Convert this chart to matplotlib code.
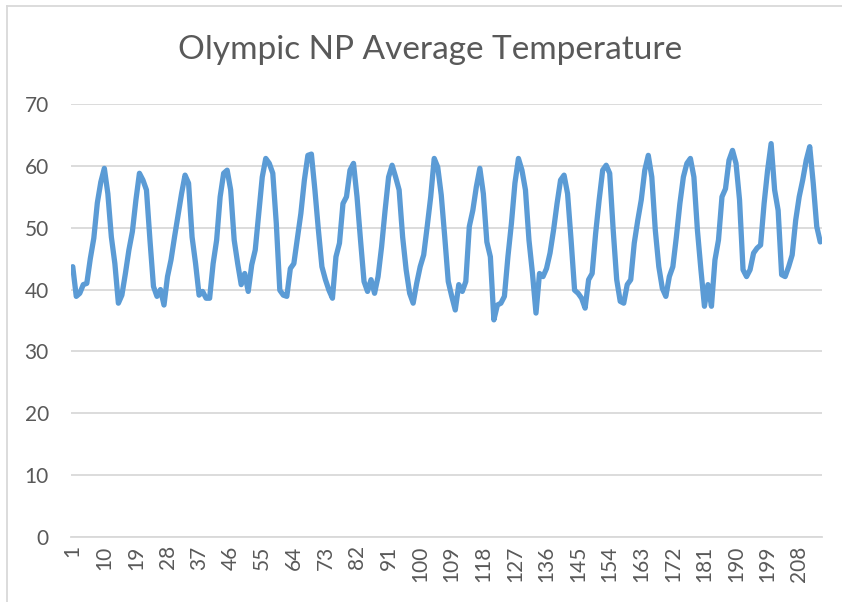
import matplotlib
matplotlib.use("Agg")
import matplotlib.pyplot as plt
from matplotlib.lines import Line2D

# monthly average temperature (214 months)
temps = [
    43.7, 38.9, 39.4, 40.8, 41.0, 45.0, 48.3, 54.0, 57.4, 59.6,
    55.5, 48.5, 44.2, 37.8, 39.1, 42.6, 46.4, 49.4, 54.5, 58.8,
    57.7, 56.1, 48.0, 40.5, 38.9, 40.0, 37.5, 42.1, 44.8, 48.5,
    52.0, 55.5, 58.5, 57.2, 48.5, 44.2, 39.1, 39.7, 38.6, 38.6,
    44.2, 48.0, 55.0, 58.8, 59.3, 56.1, 48.0, 44.2, 40.8, 42.6,
    39.7, 44.0, 46.4, 52.3, 58.2, 61.2, 60.4, 58.8, 50.7, 39.9,
    39.1, 38.9, 43.4, 44.2, 48.3, 52.3, 57.7, 61.7, 61.9, 56.1,
    49.6, 43.7, 41.6, 39.9, 38.6, 45.3, 47.5, 53.9, 55.0, 59.3,
    60.4, 55.0, 48.0, 41.3, 39.7, 41.6, 39.4, 42.1, 46.9, 52.8,
    58.2, 60.1, 58.2, 56.1, 48.5, 43.2, 39.4, 37.8, 41.0, 43.7,
    45.6, 50.2, 55.0, 61.2, 59.8, 55.3, 48.5, 41.3, 38.9, 36.7,
    40.8, 39.7, 41.3, 50.2, 52.8, 56.6, 59.6, 55.5, 47.7, 45.3,
    35.1, 37.5, 37.8, 38.9, 45.3, 50.7, 57.2, 61.2, 59.3, 56.1,
    48.0, 42.6, 36.2, 42.6, 42.1, 43.4, 45.9, 49.6, 53.9, 57.7,
    58.5, 55.5, 48.0, 39.9, 39.4, 38.6, 37.0, 41.6, 42.6, 49.1,
    54.5, 59.3, 60.1, 58.8, 49.6, 41.6, 38.1, 37.8, 40.8, 41.6,
    47.5, 51.2, 54.5, 59.3, 61.7, 58.2, 49.6, 43.7, 40.2, 38.9,
    42.1, 43.7, 48.5, 53.9, 58.2, 60.4, 61.2, 58.2, 49.6, 43.2,
    37.3, 40.8, 37.3, 44.8, 48.0, 55.0, 56.3, 60.9, 62.5, 60.4,
    54.5, 43.2, 42.1, 43.2, 45.9, 46.7, 47.2, 53.9, 59.3, 63.6,
    56.1, 52.8, 42.4, 42.1, 43.7, 45.6, 51.2, 55.0, 57.7, 60.9,
    63.1, 57.2, 50.2, 47.7,
]
months = list(range(1, len(temps) + 1))
y_ticks = [0, 10, 20, 30, 40, 50, 60, 70]
x_ticks = months[::9]

text_color = "#595959"
grid_color = "#D9D9D9"
line_color = "#5B9BD5"

plt.rcParams["font.family"] = ["Lato", "DejaVu Sans"]

fig = plt.figure(figsize=(8.42, 6.02), dpi=100)
ax = fig.add_axes([71 / 842, 1 - 537 / 602, (822 - 71) / 842, (537 - 104) / 602])

ax.plot(months, temps, color=line_color, linewidth=3.8,
        solid_joinstyle="round", solid_capstyle="round")

ax.set_xlim(0.5, len(temps) + 0.5)
ax.set_ylim(0, 70)
ax.set_yticks(y_ticks)
ax.set_xticks(x_ticks)
ax.set_xticklabels([str(m) for m in x_ticks], rotation=90)
ax.tick_params(axis="both", length=0, labelsize=15, colors=text_color)
ax.tick_params(axis="y", pad=16)
ax.tick_params(axis="x", pad=6)

ax.grid(axis="y", color=grid_color, linewidth=1.3)
ax.set_axisbelow(True)
for side in ["left", "right", "top"]:
    ax.spines[side].set_visible(False)
ax.spines["bottom"].set_color(grid_color)
ax.spines["bottom"].set_linewidth(1.3)

fig.text(0.511, 0.917, "Olympic NP Average Temperature", ha="center", va="center",
         fontsize=24, color=text_color)

# chart area border (only left/top visible in the crop)
fig.add_artist(Line2D([7 / 842, 7 / 842], [0, 1 - 6 / 602], color=grid_color, linewidth=1.3))
fig.add_artist(Line2D([7 / 842, 1], [1 - 6 / 602, 1 - 6 / 602], color=grid_color, linewidth=1.3))

fig.savefig("out.png", dpi=100)
